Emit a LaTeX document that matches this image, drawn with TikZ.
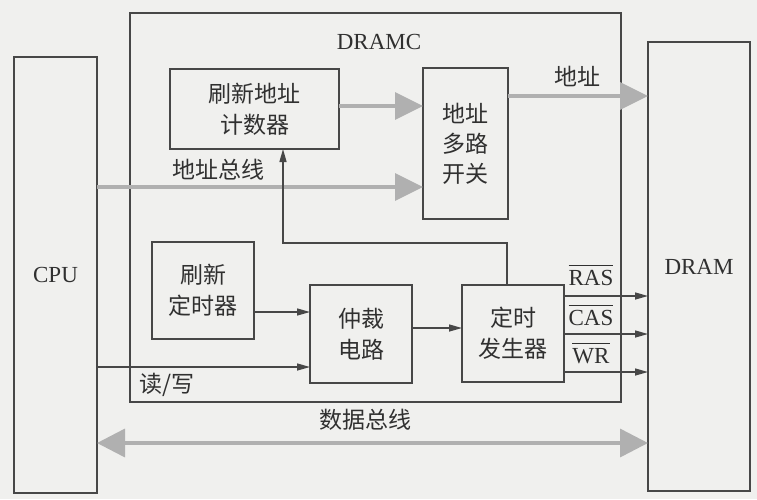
\documentclass[tikz,border=0pt]{standalone}
\usepackage{fontspec}
\setmainfont{Liberation Serif}
\newfontfamily\cjk{Noto Sans CJK SC}
\usetikzlibrary{arrows.meta,calc}
\definecolor{bg}{HTML}{F0F0EE}
\definecolor{ink}{HTML}{474747}
\definecolor{txt}{HTML}{303030}
\definecolor{busc}{HTML}{B0B0B0}
\newcommand{\barsig}[1]{$\overline{\mbox{\rule{0pt}{18pt}#1}}$}
\begin{document}
\begin{tikzpicture}[x=1pt,y=-1pt,
  every node/.style={font=\fontsize{23}{31}\selectfont\cjk, text=txt},
  box/.style={draw=ink, line width=1.5pt, inner sep=0pt, outer sep=0pt, align=center},
  lbl/.style={inner sep=0pt, font=\fontsize{23}{31}\selectfont\cjk},
  latin/.style={inner sep=0pt, font=\fontsize{23}{26}\selectfont\rmfamily},
  sig/.style={draw=ink, line width=1.4pt, -{Triangle[length=13pt,width=7pt]}},
  bus/.style={draw=busc, line width=3.5pt, -{Triangle[length=28pt,width=27pt]}},
  dbus/.style={draw=busc, line width=3.5pt, {Triangle[length=28pt,width=28pt]}-{Triangle[length=28pt,width=28pt]}}
]
\fill[bg] (0,0) rectangle (757,499);
\useasboundingbox (0,0) rectangle (757,499);

% main boxes
\node[box, minimum width=83pt, minimum height=436pt, font=\fontsize{23}{26}\selectfont\rmfamily] (cpu) at (55.5,275) {CPU};
\node[box, minimum width=102pt, minimum height=449pt, font=\fontsize{23}{26}\selectfont\rmfamily] (dram) at (699,266.5) {DRAM};
\node[box, minimum width=491pt, minimum height=389pt] (dramc) at (375.5,207.5) {};
\node[latin] (dramclbl) at (379,42) {DRAMC};

% inner boxes
\node[box, minimum width=169pt, minimum height=80pt] (rac) at (254.5,109) {刷新地址\\计数器};
\node[box, minimum width=85pt, minimum height=151pt, font=\fontsize{23}{30}\selectfont\cjk] (mux) at (465.5,143.5) {地址\\多路\\开关};
\node[box, minimum width=102pt, minimum height=97pt] (rtimer) at (203,290.5) {刷新\\定时器};
\node[box, minimum width=102pt, minimum height=98pt] (arb) at (361,334) {仲裁\\电路};
\node[box, minimum width=102pt, minimum height=97pt] (tgen) at (513,333.5) {定时\\发生器};

% buses
\draw[bus] (cpu.east |- 0,187) -- (mux.west |- 0,187);
\draw[bus] (rac.east |- 0,106) -- (mux.west |- 0,106);
\draw[bus] (mux.east |- 0,96) -- (dram.west |- 0,96);
\draw[dbus] (cpu.east |- 0,443) -- (dram.west |- 0,443);

% control signals
\coordinate (fbcorner) at (507,243);
\draw[sig] ($(tgen.north)+(-6,0)$) -- (fbcorner) -| ($(rac.south)+(28.5,0)$);
\draw[sig] (rtimer.east |- 0,312) -- (arb.west |- 0,312);
\draw[sig] (cpu.east |- 0,367) -- (arb.west |- 0,367);
\draw[sig] (arb.east |- 0,328) -- (tgen.west |- 0,328);
\draw[sig] (tgen.east |- 0,296) -- (dram.west |- 0,296);
\draw[sig] (tgen.east |- 0,334) -- (dram.west |- 0,334);
\draw[sig] (tgen.east |- 0,372) -- (dram.west |- 0,372);

% labels
\node[lbl] (labus) at (218,170) {地址总线};
\node[lbl] (laddr) at (577,76) {地址};
\node[lbl] (lrw) at (167,385) {读/写};
\node[lbl] (ldbus) at (365,420) {数据总线};
\node[latin, anchor=base] (lras) at (591,285) {\barsig{RAS}};
\node[latin, anchor=base] (lcas) at (591,325) {\barsig{CAS}};
\node[latin, anchor=base] (lwr) at (591,363) {\barsig{WR}};
\end{tikzpicture}
\end{document}
